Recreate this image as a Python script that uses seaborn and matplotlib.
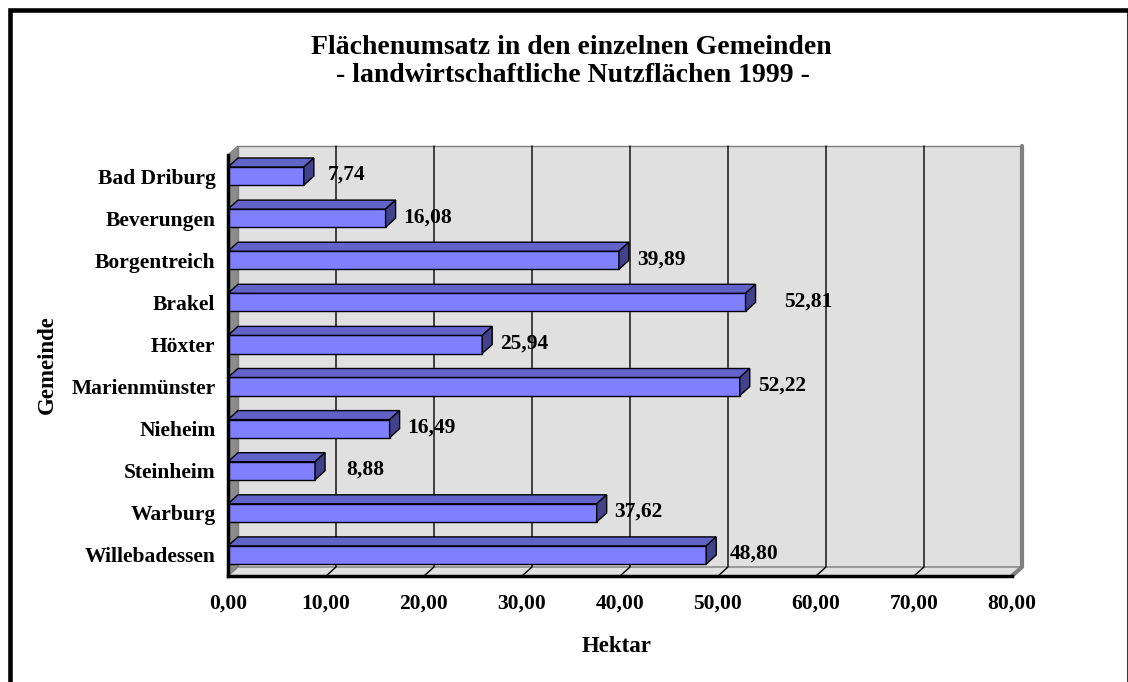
import matplotlib
matplotlib.use("Agg")
import matplotlib.pyplot as plt
from matplotlib.patches import Polygon, Rectangle
from matplotlib.transforms import IdentityTransform
import seaborn as sns
import pandas as pd
import numpy as np

# Daten
gemeinden = ["Bad Driburg", "Beverungen", "Borgentreich", "Brakel", "Höxter",
             "Marienmünster", "Nieheim", "Steinheim", "Warburg", "Willebadessen"]
hektar = [7.74, 16.08, 39.89, 52.81, 25.94, 52.22, 16.49, 8.88, 37.62, 48.80]
x_ticks = [0, 10, 20, 30, 40, 50, 60, 70, 80]
# Excel hat einige Beschriftungen verschoben (Pixel)
label_nudge = [6, 0, 0, 21, 0, 0, 0, 13, 0, 6]

df = pd.DataFrame({"Gemeinde": gemeinden, "Hektar": hektar})

sns.set_style("white")
plt.rcParams["font.family"] = ["Liberation Serif", "DejaVu Serif"]
plt.rcParams["font.weight"] = "bold"
for k in ["text.color", "axes.labelcolor", "xtick.color", "ytick.color"]:
    plt.rcParams[k] = "black"

W, H = 1128, 682
DX, DY = 10, 9   # 3D-Tiefe in Pixel
fig = plt.figure(figsize=(W / 100, H / 100), dpi=100)
ax = fig.add_axes([228 / W, (H - 576) / H, 784 / W, 421 / H])
ax.set_facecolor("none")

sns.barplot(data=df, x="Hektar", y="Gemeinde", orient="h", color="#8080ff",
            saturation=1, edgecolor="black", linewidth=1, width=0.43, ax=ax, zorder=3)

n = len(gemeinden)
ax.set_xlim(x_ticks[0], x_ticks[-1])
ax.set_ylim(n - 0.5, -0.5)

ident = IdentityTransform()


def px(x, y, back=False):
    p = ax.transData.transform((x, y))
    if back:
        p = p + np.array([DX, DY])
    return p


def face(pts, fc, ec="#808080", lw=1, z=1):
    ax.add_patch(Polygon(pts, closed=True, facecolor=fc, edgecolor=ec, linewidth=lw,
                         transform=ident, clip_on=False, zorder=z))


x0, x1 = x_ticks[0], x_ticks[-1]
ytop, ybot = -0.5, n - 0.5
bars = list(ax.patches)

# Rückwand
face([px(x0, ytop, True), px(x1, ytop, True), px(x1, ybot, True), px(x0, ybot, True)],
     "#e0e0e0", z=0.5)
# Seitenwand links
face([px(x0, ytop), px(x0, ytop, True), px(x0, ybot, True), px(x0, ybot)], "#8c8c8c", z=0.6)
# Boden
face([px(x0, ybot), px(x0, ybot, True), px(x1, ybot, True), px(x1, ybot)], "#e0e0e0", z=0.6)
# dunkle Kante rechts
ax.add_line(plt.Line2D(*zip(px(x1, ytop, True), px(x1, ybot, True), px(x1, ybot)),
                       color="#808080", linewidth=3, transform=ident, clip_on=False, zorder=0.7))

# Gitternetzlinien an Rückwand und Boden
for t in x_ticks[1:-1]:
    ax.add_line(plt.Line2D(*zip(px(t, ytop, True), px(t, ybot, True), px(t, ybot)),
                           color="black", linewidth=1, transform=ident, clip_on=False, zorder=0.8))

# 3D-Flächen der Balken
for bar in bars:
    bx, by = bar.get_x(), bar.get_y()
    bw, bh = bar.get_width(), bar.get_height()
    top_a, top_b = by, by + bh  # top_a = oben (invertierte Achse)
    face([px(bx, top_a), px(bx, top_a, True), px(bx + bw, top_a, True), px(bx + bw, top_a)],
         "#6262c8", ec="black", z=3.1)
    face([px(bx + bw, top_a), px(bx + bw, top_a, True), px(bx + bw, top_b, True), px(bx + bw, top_b)],
         "#42428c", ec="black", z=3.1)

# Wertebeschriftung
for i, (v, nd) in enumerate(zip(hektar, label_nudge)):
    ax.annotate(f"{v:.2f}".replace(".", ","), (v, i),
                xytext=((DX + 8 + nd) * 0.72, 1 * 0.72), textcoords="offset points",
                ha="left", va="center", fontsize=15.5, fontweight="bold", color="black", zorder=5)

# Achsen
for s in ["top", "right"]:
    ax.spines[s].set_visible(False)
for s in ["left", "bottom"]:
    ax.spines[s].set_linewidth(2.5)
    ax.spines[s].set_color("black")
    ax.spines[s].set_zorder(4)

ax.set_xticks(x_ticks)
ax.set_xticklabels([f"{t:.2f}".replace(".", ",") for t in x_ticks])
ax.set_yticks(range(n))
ax.set_yticklabels(gemeinden)
ax.set_yticks(np.arange(-0.5, n, 1), minor=True)
ax.tick_params(axis="x", direction="out", length=4.5, width=2.5, pad=8, labelsize=15.5,
               colors="black")
ax.tick_params(axis="y", which="major", length=0, pad=9, labelsize=15.5, colors="black")
ax.tick_params(axis="y", which="minor", direction="out", length=5, width=2.5, colors="black")
for lab in ax.get_xticklabels() + ax.get_yticklabels():
    lab.set_fontweight("bold")
ax.set_xlabel("")
ax.set_ylabel("")

# Titel und Achsentitel
fig.text(571 / W, 1 - 47 / H, "Flächenumsatz in den einzelnen Gemeinden",
         ha="center", va="center", fontsize=20, fontweight="bold", color="black")
fig.text(573 / W, 1 - 76 / H, "- landwirtschaftliche Nutzflächen 1999 -",
         ha="center", va="center", fontsize=20, fontweight="bold", color="black")
fig.text(617 / W, 1 - 646 / H, "Hektar", ha="center", va="center", fontsize=16.5,
         fontweight="bold", color="black")
fig.text(47 / W, 1 - 365 / H, "Gemeinde", ha="center", va="center", rotation=90,
         fontsize=16.5, fontweight="bold", color="black")

# Rahmen
fig.patches.append(Rectangle((10.3, -20), 1118.5, H - 10.3 + 20, transform=ident,
                             facecolor="none", edgecolor="black", linewidth=3.3,
                             figure=fig))

fig.savefig("out.png", dpi=100)
